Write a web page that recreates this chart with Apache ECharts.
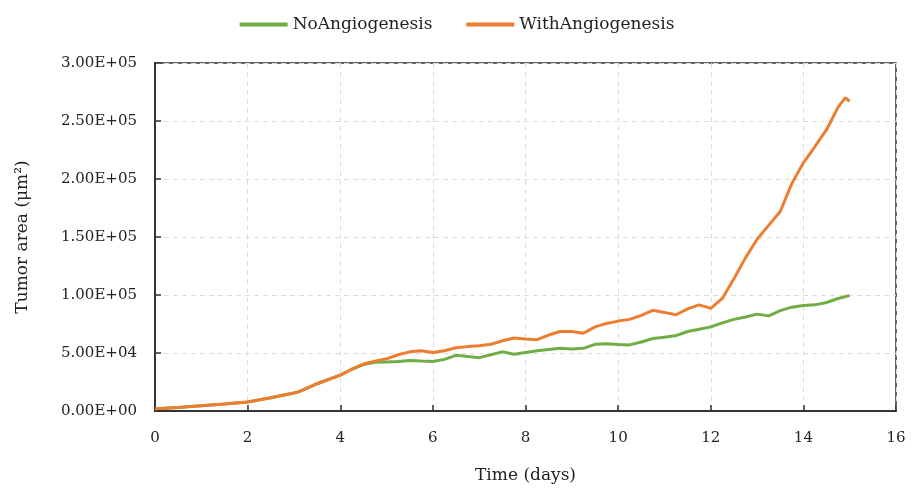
<!DOCTYPE html>
<html>
<head>
<meta charset="utf-8">
<script src="https://cdn.jsdelivr.net/npm/echarts@6/dist/echarts.min.js"></script>
<style>
html,body{margin:0;padding:0;background:#fff;}
#chart{width:914px;height:489px;}
</style>
</head>
<body>
<div id="chart"></div>
<script>
const days = [0,0.5,1,1.5,2,2.5,3,3.1,3.5,4,4.25,4.5,4.75,5,5.25,5.5,5.75,6,6.25,6.5,6.75,7,7.25,7.5,7.75,8,8.25,8.5,8.75,9,9.25,9.5,9.75,10,10.25,10.5,10.75,11,11.25,11.5,11.75,12,12.25,12.5,12.75,13,13.25,13.5,13.75,14,14.25,14.5,14.75,14.9,15];
const withAngio = [2000,3000,4500,6000,7700,11500,15500,16500,23500,31000,36000,40500,43000,45000,48500,51000,52000,50500,52000,54500,55500,56300,57500,60500,63000,62000,61500,65500,68500,68500,67000,72500,75500,77500,79000,82500,86800,85000,83000,88000,91500,88500,97000,114000,132000,148000,160000,172000,196000,214000,228000,242500,262000,270000,267000];
const noAngio = [2000,3000,4500,6000,7700,11500,15500,16500,23500,31000,36000,40000,42000,42300,42600,43500,43000,42600,44500,48000,47000,46000,48500,51000,49000,50500,52000,53000,54000,53500,54000,57500,58000,57300,57000,59500,62500,63500,65000,68500,70500,72500,76000,79000,81000,83500,82000,86500,89500,91000,91500,93500,97000,98500,99700];
const seriesNames = ['NoAngiogenesis','WithAngiogenesis'];
const xTicks = [0,2,4,6,8,10,12,14,16];
const yTicks = [0,50000,100000,150000,200000,250000,300000];

function sci(v){
  if (v === 0) return '0.00E+00';
  const e = Math.floor(Math.log10(Math.abs(v)) + 1e-9);
  const m = v / Math.pow(10, e);
  return m.toFixed(2) + 'E' + (e >= 0 ? '+' : '-') + String(Math.abs(e)).padStart(2,'0');
}

const font = 'DejaVu Serif';
const chart = echarts.init(document.getElementById('chart'), null, {renderer:'canvas'});
chart.setOption({
  animation:false,
  backgroundColor:'#fff',
  textStyle:{fontFamily:font},
  legend:{
    top:11, left:'center',
    itemWidth:48, itemHeight:4, itemGap:34,
    icon:'rect',
    textStyle:{fontFamily:font, fontSize:17, color:'#222'},
    data:seriesNames
  },
  grid:{left:155, right:18, top:63, bottom:76, show:true, borderColor:'#333', borderWidth:1.5},
  xAxis:{
    type:'value', min:xTicks[0], max:xTicks[xTicks.length-1], interval:2,
    name:'Time (days)', nameLocation:'middle', nameGap:56,
    nameTextStyle:{fontFamily:font, fontSize:17, color:'#222'},
    axisLine:{lineStyle:{color:'#333', width:2}},
    axisTick:{inside:true, length:6, lineStyle:{color:'#333', width:1.5}},
    axisLabel:{fontFamily:font, fontSize:15, color:'#222', margin:20},
    splitLine:{show:true, lineStyle:{color:'#dcdcdc', type:[5,4], width:1}}
  },
  yAxis:{
    type:'value', min:yTicks[0], max:yTicks[yTicks.length-1], interval:50000,
    name:'Tumor area (μm²)', nameLocation:'middle', nameGap:124,
    nameTextStyle:{fontFamily:font, fontSize:17, color:'#222'},
    axisLine:{show:true, lineStyle:{color:'#333', width:2}},
    axisTick:{show:true, inside:true, length:6, lineStyle:{color:'#333', width:1.5}},
    axisLabel:{fontFamily:font, fontSize:15, color:'#222', margin:18, formatter:sci},
    splitLine:{show:true, lineStyle:{color:'#dcdcdc', type:[5,4], width:1}}
  },
  series:[
    {name:seriesNames[0], type:'line', showSymbol:false, symbol:'none',
     color:'#70AD47', lineStyle:{width:3, color:'#70AD47'},
     data:days.map((d,i)=>[d,noAngio[i]])},
    {name:seriesNames[1], type:'line', showSymbol:false, symbol:'none',
     color:'#ED7D31', lineStyle:{width:3, color:'#ED7D31'},
     data:days.map((d,i)=>[d,withAngio[i]])}
  ]
});
</script>
</body>
</html>
